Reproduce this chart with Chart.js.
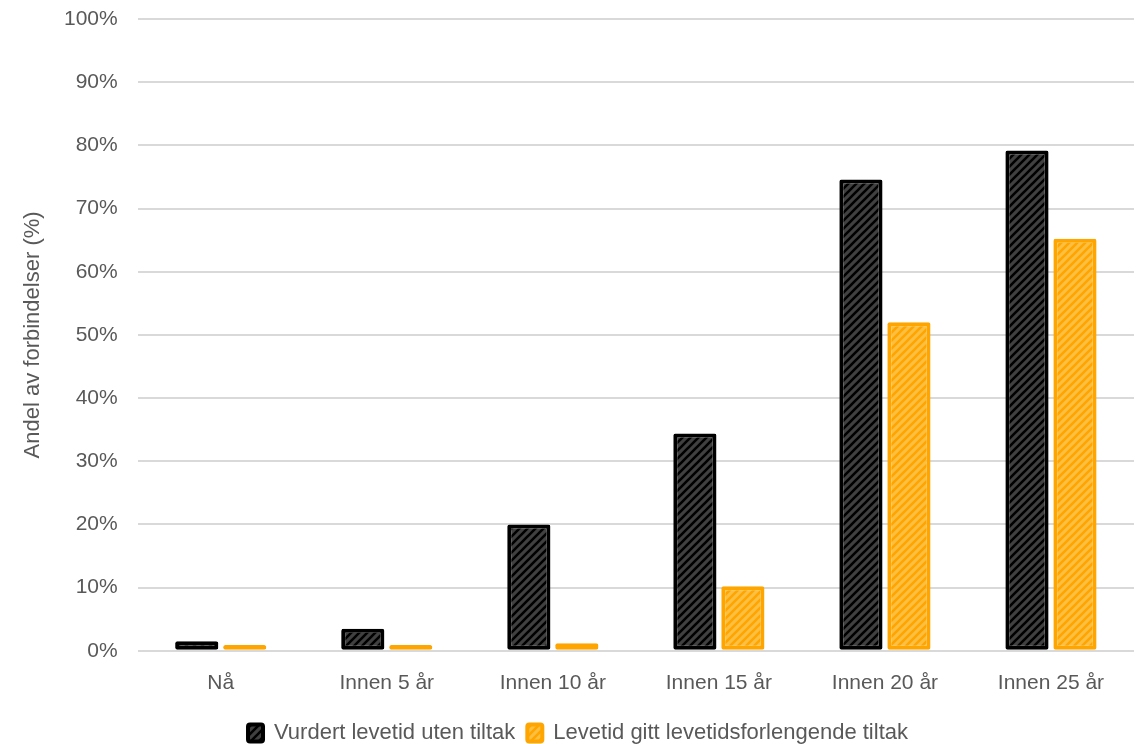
<!DOCTYPE html>
<html>
<head>
<meta charset="utf-8">
<script src="https://cdn.jsdelivr.net/npm/chart.js@4.4.0/dist/chart.umd.min.js"></script>
<style>
  html, body { margin: 0; padding: 0; background: #fff; }
  #wrap { width: 1143px; height: 744px; }
</style>
</head>
<body>
<div id="wrap"><canvas id="chart"></canvas></div>
<script>
// categories and values (percent)
const kategorier = ['Nå', 'Innen 5 år', 'Innen 10 år', 'Innen 15 år', 'Innen 20 år', 'Innen 25 år'];
const utenTiltak = [1.5, 3.5, 20.0, 34.4, 74.6, 79.2];
const medTiltak = [0.9, 0.9, 1.2, 10.2, 52.0, 65.2];
const serieNavn = ['Vurdert levetid uten tiltak', 'Levetid gitt levetidsforlengende tiltak'];

const tekstFarge = '#595959';
const fontFamily = "'Liberation Sans', Arial, sans-serif";

// diagonal hatch, "/" direction
function hatch(bg, stripe) {
  const s = 8;
  const c = document.createElement('canvas');
  c.width = s; c.height = s;
  const g = c.getContext('2d');
  g.fillStyle = bg;
  g.fillRect(0, 0, s, s);
  g.strokeStyle = stripe;
  g.lineWidth = 2.6;
  g.beginPath();
  g.moveTo(-2, s + 2); g.lineTo(s + 2, -2);
  g.moveTo(-2, 2); g.lineTo(2, -2);
  g.moveTo(s - 2, s + 2); g.lineTo(s + 2, s - 2);
  g.stroke();
  return g.createPattern(c, 'repeat');
}

const ctx = document.getElementById('chart').getContext('2d');
new Chart(ctx, {
  type: 'bar',
  data: {
    labels: kategorier,
    datasets: [
      {
        label: serieNavn[0],
        data: utenTiltak,
        backgroundColor: hatch('#404040', '#000000'),
        borderColor: '#000000',
        borderWidth: 4,
        borderRadius: 2,
        borderSkipped: false,
        categoryPercentage: 0.578,
        barPercentage: 0.9
      },
      {
        label: serieNavn[1],
        data: medTiltak,
        backgroundColor: hatch('#ffbf40', '#ffa500'),
        borderColor: '#ffa500',
        borderWidth: 4,
        borderRadius: 2,
        borderSkipped: false,
        categoryPercentage: 0.578,
        barPercentage: 0.9
      }
    ]
  },
  options: {
    responsive: true,
    maintainAspectRatio: false,
    animation: false,
    layout: { padding: { top: 19, right: 9, left: 22, bottom: -10 } },
    plugins: {
      legend: {
        position: 'bottom',
        labels: {
          color: tekstFarge,
          font: { family: fontFamily, size: 22 },
          boxWidth: 15,
          boxHeight: 17,
          padding: 12,
          useBorderRadius: true,
          borderRadius: 2
        }
      },
      tooltip: { enabled: false }
    },
    scales: {
      x: {
        grid: { display: false },
        border: { display: false },
        ticks: { color: tekstFarge, font: { family: fontFamily, size: 21 }, padding: 12 },
        afterFit: s => { s.height += 2; }
      },
      y: {
        min: 0,
        max: 100,
        ticks: {
          stepSize: 10,
          color: tekstFarge,
          font: { family: fontFamily, size: 21 },
          padding: 20,
          callback: v => v + '%'
        },
        grid: { color: '#d9d9d9', lineWidth: 2, drawTicks: false },
        border: { display: false },
        title: {
          display: true,
          text: 'Andel av forbindelser (%)',
          color: tekstFarge,
          font: { family: fontFamily, size: 22, lineHeight: 1.0 },
          padding: { top: 0, bottom: 0 }
        },
        afterFit: s => { s.paddingTop = 0; s.paddingBottom = 0; }
      }
    }
  }
});
</script>
</body>
</html>
